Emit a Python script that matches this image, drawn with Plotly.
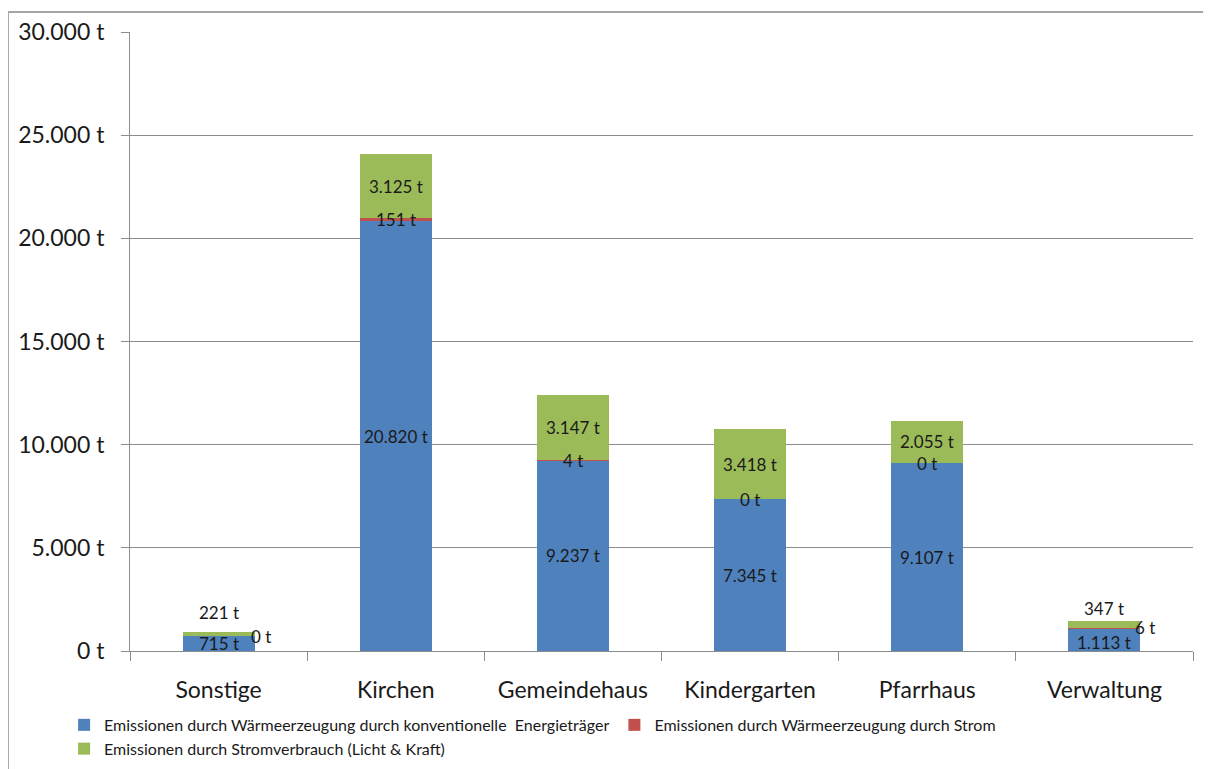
import plotly.graph_objects as go

kategorien = ["Sonstige", "Kirchen", "Gemeindehaus", "Kindergarten", "Pfarrhaus", "Verwaltung"]
waerme_konventionell = [715, 20820, 9237, 7345, 9107, 1113]
waerme_strom = [0, 151, 4, 0, 0, 6]
stromverbrauch = [221, 3125, 3147, 3418, 2055, 347]

y_ticks = [0, 5000, 10000, 15000, 20000, 25000, 30000]

serien = [
    ("Emissionen durch Wärmeerzeugung durch konventionelle  Energieträger", waerme_konventionell, "#4F81BD"),
    ("Emissionen durch Wärmeerzeugung durch Strom", waerme_strom, "#C0504D"),
    ("Emissionen durch Stromverbrauch (Licht & Kraft)", stromverbrauch, "#9BBB59"),
]

# Excel hat bei den kleinen Säulen die Beschriftungen verschoben
label_versatz = {
    ("Sonstige", 1): (42, 0),
    ("Sonstige", 2): (0, 21),
    ("Verwaltung", 1): (41, 0),
    ("Verwaltung", 2): (0, 16),
    ("Verwaltung", 0): (0, -3),
}

def fmt(v):
    return f"{v:,} t".replace(",", ".")

fig = go.Figure()
for name, werte, farbe in serien:
    fig.add_trace(go.Bar(
        x=kategorien,
        y=werte,
        name=name,
        marker=dict(color=farbe, line=dict(width=0)),
        hovertemplate="%{x}<br>%{y:,} t<extra></extra>"
    ))

annotations = []
basis = [0] * len(kategorien)
for i, (name, werte, farbe) in enumerate(serien):
    for j, kat in enumerate(kategorien):
        dx, dy = label_versatz.get((kat, i), (0, 0))
        annotations.append(dict(
            x=kat, y=basis[j] + werte[j] / 2, xref="x", yref="y",
            text=fmt(werte[j]), showarrow=False,
            xshift=dx, yshift=dy,
            font=dict(size=17, color="#1a1a1a")
        ))
        basis[j] += werte[j]

# Seite hat 8px Rand; Figur nach unten etwas höher, damit die Legende
# den Plotbereich nicht zusammenschiebt
fig.update_layout(
    barmode="stack",
    bargap=0.594,
    width=1203,
    height=800,
    margin=dict(l=122, r=18, t=24, b=157),
    paper_bgcolor="white",
    plot_bgcolor="white",
    font=dict(family="Lato, Open Sans, sans-serif", color="#1a1a1a"),
    separators=",.",
    annotations=annotations,
    showlegend=True,
    legend=dict(
        orientation="h",
        x=-0.062, xanchor="left",
        y=-0.092, yanchor="top",
        font=dict(size=16),
        traceorder="normal",
        itemwidth=30,
    ),
    shapes=[dict(
        type="rect", xref="paper", yref="paper",
        x0=-0.1148, x1=1.05, y0=-0.3, y1=1.0323,
        line=dict(color="#a6a6a6", width=2), layer="below"
    )],
    yaxis=dict(
        range=[0, 30000],
        tickvals=y_ticks,
        ticktext=[fmt(v) for v in y_ticks],
        showgrid=True, gridcolor="#8c8c8c", gridwidth=1,
        showline=True, linecolor="#8c8c8c", linewidth=1,
        ticks="outside", ticklen=8, tickcolor="#8c8c8c",
        ticklabelstandoff=12,
        tickfont=dict(size=23),
        zeroline=False,
        automargin=False,
    ),
    xaxis=dict(
        showline=True, linecolor="#8c8c8c", linewidth=1,
        ticks="outside", ticklen=9, tickcolor="#8c8c8c",
        tickson="boundaries",
        ticklabelstandoff=18,
        tickfont=dict(size=23),
        showgrid=False,
        automargin=False,
    ),
)

fig.write_html("out.html")
